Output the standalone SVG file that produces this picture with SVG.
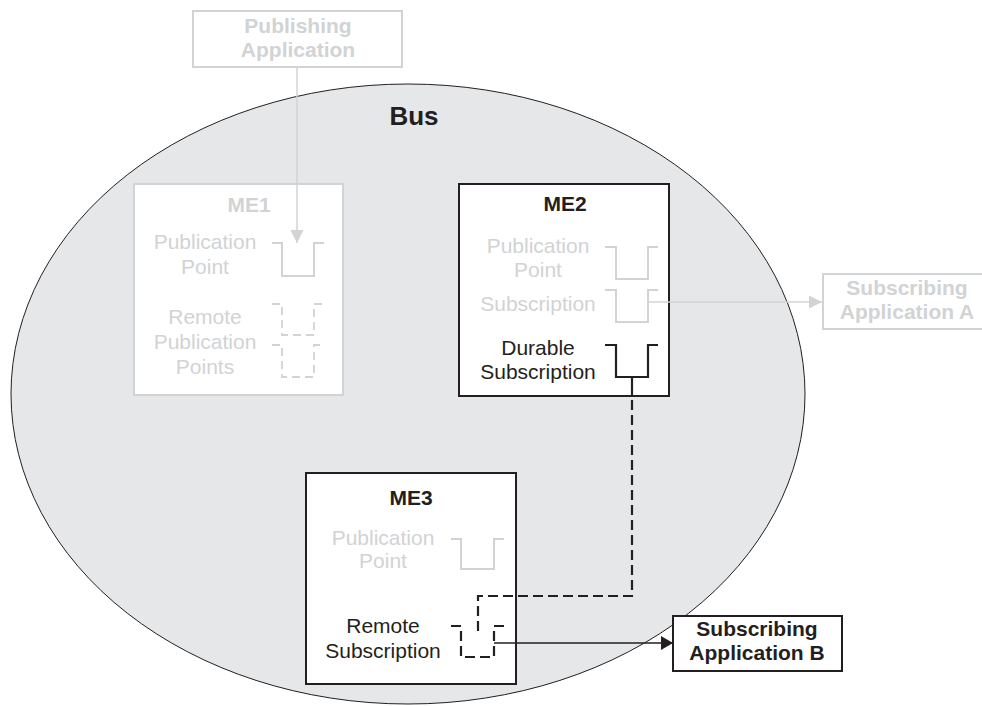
<svg xmlns="http://www.w3.org/2000/svg" width="982" height="706" viewBox="0 0 982 706">
<defs>
<style>
.t{font-family:"Liberation Sans",Arial,sans-serif;font-size:21px;text-anchor:middle}
.b{font-weight:bold}
.g{fill:#d1d3d4}
.k{fill:#231f20}
.gbox{fill:#ffffff;stroke:#d1d3d4;stroke-width:2}
.kbox{fill:#ffffff;stroke:#231f20;stroke-width:2}
.gsym{fill:none;stroke:#d1d3d4;stroke-width:2}
.ksym{fill:none;stroke:#231f20;stroke-width:2.2}
.gdash{fill:none;stroke:#d1d3d4;stroke-width:1.8;stroke-dasharray:8 5}
.kdash{fill:none;stroke:#231f20;stroke-width:2.2;stroke-dasharray:10 5}
</style>
<marker id="ag" markerUnits="userSpaceOnUse" markerWidth="14" markerHeight="14" refX="13" refY="6.5" orient="auto"><path d="M0,0 L13,6.5 L0,13 z" fill="#d1d3d4"/></marker>
<marker id="ak" markerUnits="userSpaceOnUse" markerWidth="14" markerHeight="15" refX="12" refY="7" orient="auto"><path d="M0,0 L12,7 L0,14 z" fill="#231f20"/></marker>
</defs>
<rect width="982" height="706" fill="#ffffff"/>
<g id="bus">
<ellipse cx="408" cy="394" rx="397" ry="310" fill="#e6e7e8" stroke="#231f20" stroke-width="1"/>
<text class="t b k" x="414" y="125" style="font-size:26px">Bus</text>
</g>
<g id="publishing-application">
<rect class="gbox" x="193" y="11" width="209" height="56"/>
<text class="t b g" x="298" y="33">Publishing</text>
<text class="t b g" x="298" y="57">Application</text>
</g>
<g id="me1">
<rect class="gbox" x="134" y="184" width="209" height="211"/>
<text class="t b g" x="249" y="212">ME1</text>
<text class="t g" x="205" y="249">Publication</text>
<text class="t g" x="205" y="274">Point</text>
<path class="gsym" d="M272,243 H282 V276 H314 V243 H324"/>
<text class="t g" x="205" y="324">Remote</text>
<text class="t g" x="205" y="349">Publication</text>
<text class="t g" x="205" y="374">Points</text>
<path class="gdash" d="M272,304 H282 V335 H314 V304 H324"/>
<path class="gdash" d="M272,345 H282 V377 H314 V345 H324"/>
</g>
<g id="me2">
<rect class="kbox" x="459" y="184" width="210" height="212"/>
<text class="t b k" x="565" y="211">ME2</text>
<text class="t g" x="538" y="253">Publication</text>
<text class="t g" x="538" y="277">Point</text>
<path class="gsym" d="M605,247 H616 V279 H648 V247 H658"/>
<text class="t g" x="538" y="311">Subscription</text>
<path class="gsym" d="M605,290 H616 V322 H648 V290 H658"/>
<text class="t k" x="538" y="355">Durable</text>
<text class="t k" x="538" y="379">Subscription</text>
<path class="ksym" d="M605,345 H616 V377 H648 V345 H658"/>
</g>
<g id="me3">
<rect class="kbox" x="306" y="473" width="210" height="211"/>
<text class="t b k" x="411" y="505">ME3</text>
<text class="t g" x="383" y="545">Publication</text>
<text class="t g" x="383" y="568">Point</text>
<path class="gsym" d="M451,539 H461 V569 H494 V539 H504"/>
<text class="t k" x="383" y="633">Remote</text>
<text class="t k" x="383" y="658">Subscription</text>
<path class="kdash" d="M451,626 H461 V657 H494 V626 H504"/>
</g>
<g id="subscribing-application-a">
<rect class="gbox" x="823" y="274" width="169" height="55"/>
<text class="t b g" x="907" y="295">Subscribing</text>
<text class="t b g" x="907" y="319">Application A</text>
</g>
<g id="subscribing-application-b">
<rect class="kbox" x="673" y="616" width="169" height="55"/>
<text class="t b k" x="757" y="636">Subscribing</text>
<text class="t b k" x="757" y="660">Application B</text>
</g>
<g id="connectors">
<line x1="297" y1="67" x2="297" y2="243" stroke="#d1d3d4" stroke-width="1.5" marker-end="url(#ag)"/>
<line x1="648" y1="302" x2="822" y2="302" stroke="#d1d3d4" stroke-width="1.5" marker-end="url(#ag)"/>
<line x1="632" y1="377" x2="632" y2="396" stroke="#231f20" stroke-width="2.2"/>
<path class="kdash" d="M632,400 V596 H478 V632"/>
<line x1="494" y1="643" x2="673" y2="643" stroke="#231f20" stroke-width="1.3" marker-end="url(#ak)"/>
</g>
</svg>
